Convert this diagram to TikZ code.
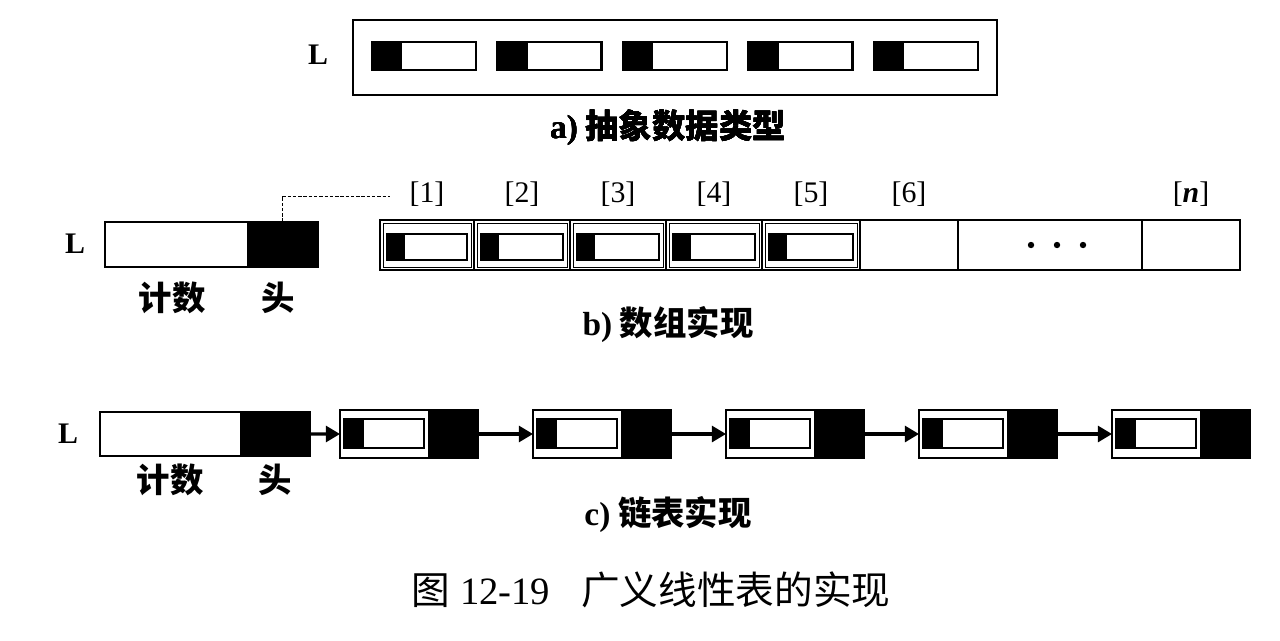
\documentclass[tikz,border=0pt]{standalone}
\usepackage{fontspec}
\setmainfont{Liberation Serif}
\newfontfamily\cjk{Noto Sans CJK SC}
\usetikzlibrary{arrows.meta}
\tikzset{frame/.style={draw, line width=1.6pt},
         elemline/.style={draw, line width=1.3pt},
         link/.style={draw, line width=1.3pt, anchor=north west,
         minimum width=2.76cm, minimum height=0.96cm,
         inner sep=0pt, outer sep=0pt},
         ptr/.style={line width=1.8pt, -{Triangle[length=8pt, width=9pt]}},
         lbl/.style={font=\fontsize{17}{17}\selectfont\bfseries},
         capt/.style={font=\fontsize{19}{19}\selectfont\bfseries\cjk}}
% one element: white box with a black left part
\newcommand\elem[5]{\fill (#1,#2) rectangle ++(#5,#4);
  \draw[elemline] (#1,#2) rectangle ++(#3,#4);}

\begin{document}
\begin{tikzpicture}[x=0.02cm, y=-0.02cm]
    \useasboundingbox (0,0) rectangle (1280,640);

    % a) abstract type
    \node[lbl] (la) at (318,55) {L};
    \draw[frame] (353,20) rectangle (997,95);
    \foreach \x in {372,497.5,623,748.5,874}
      \elem{\x}{42}{104}{28}{30}
    \node[capt] (capa) at (668,128) {{\rmfamily a)} 抽象数据类型};

    % b) array
    \node[lbl] (lb) at (75,244) {L};
    \draw[frame] (105,222) rectangle (318,267);
    \fill (247,222) rectangle (318,267);
    \coordinate (hb) at (282,222);
    \coordinate (idx) at (390,196);
    \draw[dashed, thin, dash pattern=on 2pt off 1pt] (hb) |- (idx);
    \node[capt] (cntb) at (172,298) {计数};
    \node[capt] (hdb) at (278,298) {头};

    \draw[frame] (380,220) rectangle (1240,270);
    \foreach \x in {474,570,666,762,860,958,1142}
      \draw[frame] (\x,220) -- (\x,270);
    \foreach \x/\w in {380/94,474/96,570/96,666/96,762/98}{
      \draw[thin] (\x+3,223) rectangle ++(\w-6,44);
      \elem{\x+7}{234}{\w-14}{26}{18}
    }
    \foreach \c/\t in {427/{[1]},522/{[2]},618/{[3]},714/{[4]},811/{[5]},909/{[6]}}
      \node[font=\fontsize{17}{17}\selectfont] at (\c,194) {\t};
    \node[font=\fontsize{17}{17}\selectfont] at (1191,194) {[\textbf{\textit{n}}]};
    \foreach \x in {1031,1057,1083}
      \fill (\x,245) circle[radius=3.2];
    \node[capt] (capb) at (668,325) {{\rmfamily b)} 数组实现};

    % c) linked list
    \node[lbl] (lc) at (68,434) {L};
    \node[link, minimum width=4.2cm, minimum height=0.88cm] (hc) at (100,412) {};
    \fill (240,412) rectangle (310,456);
    \foreach \i/\x in {1/340,2/533,3/726,4/919,5/1112}{
      \node[link] (c\i) at (\x,410) {};
      \fill (\x+88,410) rectangle (\x+138,458);
      \elem{\x+4}{419}{80}{29}{20}
    }
    \draw[ptr] (hc) -- (c1);
    \foreach \a/\b in {1/2,2/3,3/4,4/5}
      \draw[ptr] (c\a) -- (c\b);
    \node[capt] (cntc) at (170,480) {计数};
    \node[capt] (hdc) at (275,480) {头};
    \node[capt] (capc) at (668,515) {{\rmfamily c)} 链表实现};

    \node[font=\fontsize{22}{22}\selectfont] (fig) at (651,590)
      {{\cjk 图} 12-19\hspace{0.8em}{\cjk 广义线性表的实现}};
\end{tikzpicture}
\end{document}
